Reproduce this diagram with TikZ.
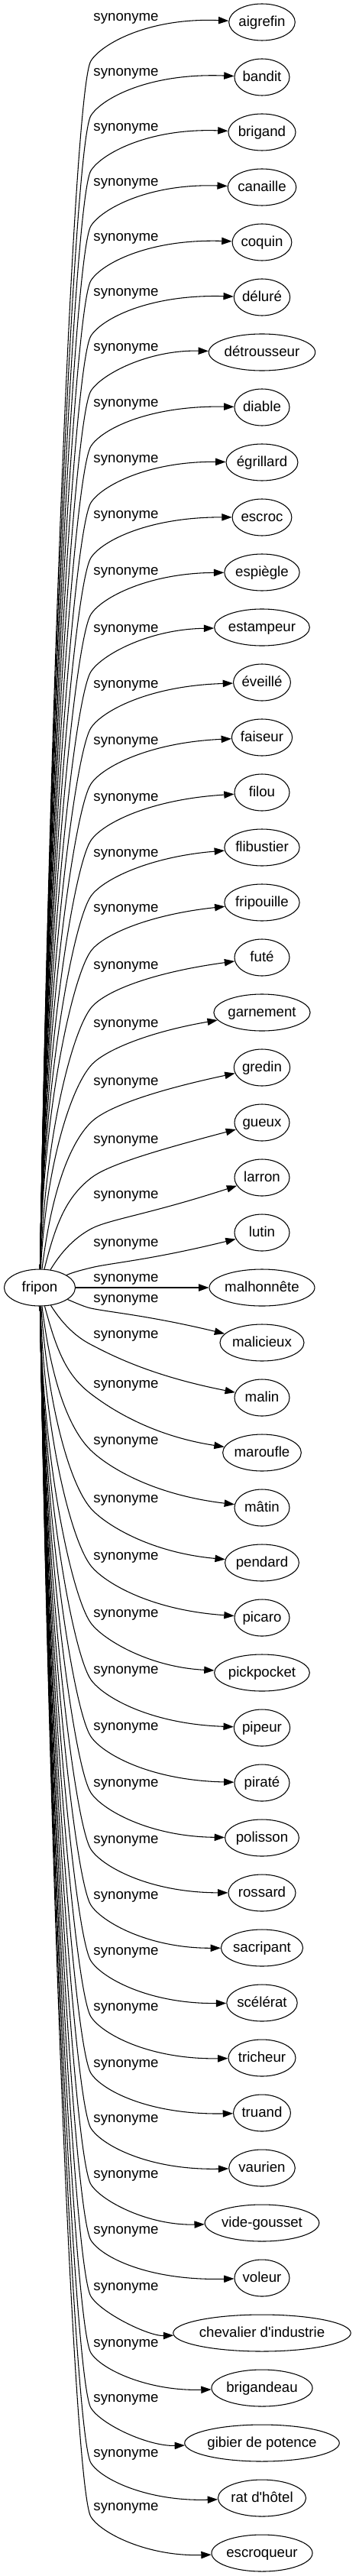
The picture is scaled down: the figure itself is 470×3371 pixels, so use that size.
\documentclass[tikz,border=0pt]{standalone}
\usepackage{fontspec}
\setmainfont{Liberation Sans}
\newfontfamily\wordfamily{Liberation Sans}
\usetikzlibrary{arrows.meta,shapes.geometric}
\newcommand{\wordfont}{\wordfamily\fontsize{14pt}{16.8pt}\selectfont}
\newlength{\wlen}
\tikzset{
  word/.style={draw, ellipse, line width=0.8pt, inner sep=0pt, minimum height=36pt,
    text height=10pt, text depth=2pt, font=\wordfont},
  rel/.style={inner sep=0pt, font=\wordfont},
  link/.style={line width=0.8pt, -{Triangle[length=10pt,width=7pt]}}
}

\begin{document}
\begin{tikzpicture}[x=0.75pt,y=-0.75pt]
  \useasboundingbox (0,0) rectangle (470,3371);
  % head word
  \node[word, minimum width=69.75pt] (fripon) at (52,1685) {fripon};
  % synonyms, one row each, with their edge label
  \foreach \nm/\txt/\ly [count=\idx from 0] in {
    aigrefin/aigrefin/24.7, bandit/bandit/96.3, brigand/brigand/168.3,
    canaille/canaille/240.7, coquin/coquin/312.2, delure/déluré/384.6,
    detrousseur/détrousseur/456.6, diable/diable/529, egrillard/égrillard/602.8,
    escroc/escroc/675, espiegle/espiègle/749, estampeur/estampeur/824,
    eveille/éveillé/897.7, faiseur/faiseur/971, filou/filou/1045,
    flibustier/flibustier/1118, fripouille/fripouille/1190, fute/futé/1265,
    garnement/garnement/1341, gredin/gredin/1417, gueux/gueux/1493,
    larron/larron/1565.5, lutin/lutin/1628, malhonnete/malhonnête/1674,
    malicieux/malicieux/1701, malin/malin/1748.5, maroufle/maroufle/1813,
    matin/mâtin/1887, pendard/pendard/1963, picaro/picaro/2038,
    pickpocket/pickpocket/2113, pipeur/pipeur/2187, pirate/piraté/2261.5,
    polisson/polisson/2335, rossard/rossard/2409, sacripant/sacripant/2482,
    scelerat/scélérat/2555, tricheur/tricheur/2628, truand/truand/2702,
    vaurien/vaurien/2774, vide/vide-gousset/2847.5, voleur/voleur/2920.6,
    chevalier/chevalier d'industrie/2994, brigandeau/brigandeau/3068,
    gibier/gibier de potence/3140, rat/rat d'hôtel/3212,
    escroqueur/escroqueur/3282.5} {
    \pgfmathsetmacro\ny{29+72*\idx}
    \settowidth{\wlen}{\wordfont\txt}
    \pgfmathsetmacro\w{max(54,1.25*\wlen+26)}
    \node[word, minimum width=\w pt] (\nm) at (343,\ny) {\txt};
    \node[rel] at (165,\ly) {synonyme};
    \pgfmathsetmacro\ha{\w/1.5}
    \pgfmathsetmacro\qx{119+0.4*(224-\ha)}
    \ifnum\idx<23
      % edges going up
      \pgfmathsetmacro\dn{23-\idx}
      \pgfmathtruncatemacro\ph{90-65*exp(-(\dn-1)/1.3)}
      \pgfmathsetmacro\rh{1/sqrt(cos(\ph)^2/2209+sin(\ph)^2/576)}
      \pgfmathsetmacro\ax{52+\rh*cos(\ph)}
      \pgfmathsetmacro\ay{1685-\rh*sin(\ph)}
      \pgfmathsetmacro\ky{\ly+55-24*exp(-(\dn-1)/1.5)}
      \pgfmathsetmacro\tk{58-44*exp(-(\dn-1)/2.5)}
      \pgfmathsetmacro\sA{0.5*(\ay-\ky)+5}
      \pgfmathsetmacro\sB{min(40,0.3*(\ay-\ky)+5)}
      \pgfmathsetmacro\ta{min(atan((\ky-\ny)/(224-\ha)),-3+21*exp(-(\dn-2)/6))}
      \pgfmathsetmacro\cax{\ax+\sA*cos(\ph)}
      \pgfmathsetmacro\cay{\ay-\sA*sin(\ph)}
      \pgfmathsetmacro\cbx{119-\sB*cos(\tk)}
      \pgfmathsetmacro\cby{\ky+\sB*sin(\tk)}
      \pgfmathsetmacro\dax{119+26*cos(\tk)}
      \pgfmathsetmacro\day{\ky-26*sin(\tk)}
      \pgfmathsetmacro\qy{\ny+(343-\qx)*tan(\ta)}
      \draw[link] (fripon.\ph) .. controls (\cax,\cay) and (\cbx,\cby) .. (119,\ky)
        .. controls (\dax,\day) and (\qx,\qy) .. (\nm);
    \else\ifnum\idx=23
      \draw[link] (fripon) -- (\nm);
    \else
      % edges going down
      \pgfmathsetmacro\dn{\idx-23}
      \pgfmathtruncatemacro\ph{90-67*exp(-(\dn-1)/1.3)}
      \pgfmathtruncatemacro\pq{360-\ph}
      \pgfmathsetmacro\rh{1/sqrt(cos(\ph)^2/2209+sin(\ph)^2/576)}
      \pgfmathsetmacro\ax{52+\rh*cos(\ph)}
      \pgfmathsetmacro\ay{1685+\rh*sin(\ph)}
      \pgfmathsetmacro\ky{\ly+11}
      \pgfmathsetmacro\tk{58-46*exp(-(\dn-1)/2.5)}
      \pgfmathsetmacro\sA{0.5*(\ky-\ay)+5}
      \pgfmathsetmacro\sB{min(40,0.3*(\ky-\ay)+5)}
      \pgfmathsetmacro\ta{min(atan((\ny-\ky)/(224-\ha)),-2+16*exp(-(\dn-1)/5))}
      \pgfmathsetmacro\cax{\ax+\sA*cos(\ph)}
      \pgfmathsetmacro\cay{\ay+\sA*sin(\ph)}
      \pgfmathsetmacro\cbx{119-\sB*cos(\tk)}
      \pgfmathsetmacro\cby{\ky-\sB*sin(\tk)}
      \pgfmathsetmacro\dax{119+26*cos(\tk)}
      \pgfmathsetmacro\day{\ky+26*sin(\tk)}
      \pgfmathsetmacro\qy{\ny-(343-\qx)*tan(\ta)}
      \draw[link] (fripon.\pq) .. controls (\cax,\cay) and (\cbx,\cby) .. (119,\ky)
        .. controls (\dax,\day) and (\qx,\qy) .. (\nm);
    \fi\fi
  }
\end{tikzpicture}
\end{document}
